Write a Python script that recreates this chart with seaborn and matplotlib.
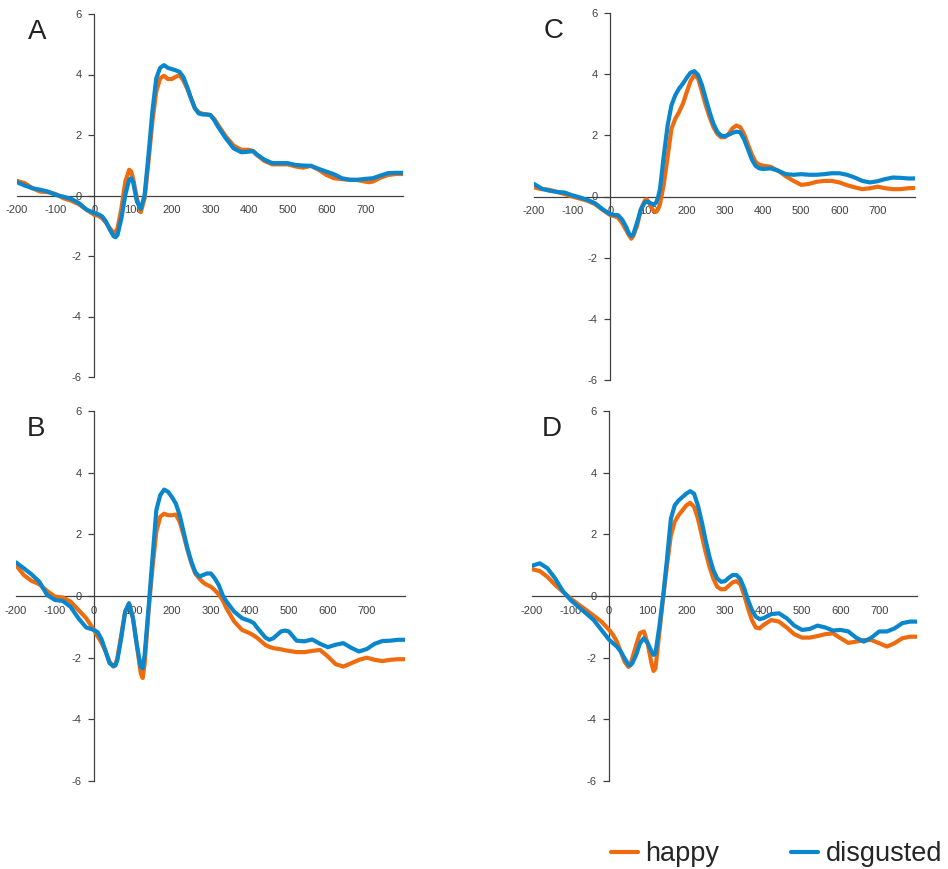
import matplotlib
matplotlib.use("Agg")
import matplotlib.pyplot as plt
import seaborn as sns
import pandas as pd

sns.set_theme(style="white")
plt.rcParams['font.family'] = ['Liberation Sans', 'DejaVu Sans']

conditions = ["happy", "disgusted"]
palette = {"happy": "#ee6b0e", "disgusted": "#0a86cc"}
x_ticks = [-200, -100, 0, 100, 200, 300, 400, 500, 600, 700]
y_ticks = [-6, -4, -2, 0, 2, 4, 6]

# ---- Panel A ----
time_A = [-200, -180, -160, -140, -120, -100, -80, -60, -40, -20,
          0, 10, 20, 30, 40, 50, 55, 60, 70, 80, 90, 95,
          100, 110, 120, 130, 140, 150, 160, 170, 180, 190, 200, 210, 220, 230, 240, 250,
          260, 270, 280, 290, 300, 310, 320,
          340, 360, 380, 400, 410, 420, 440, 460, 480, 500, 520, 540, 560, 580, 600,
          620, 640, 660, 680, 700, 710, 720, 740, 760, 780, 798]
happy_A = [0.48, 0.41, 0.24, 0.13, 0.11, 0.05, -0.09, -0.17, -0.29, -0.47,
           -0.64, -0.67, -0.75, -0.90, -1.08, -1.24, -1.20, -1.08, -0.42, 0.46, 0.85, 0.80,
           0.57, -0.09, -0.55, -0.09, 1.12, 2.44, 3.43, 3.87, 3.96, 3.85, 3.85, 3.92, 3.98, 3.81, 3.54, 3.21,
           2.88, 2.75, 2.70, 2.68, 2.66, 2.53, 2.33,
           1.95, 1.65, 1.51, 1.51, 1.47, 1.34, 1.14, 1.03, 1.03, 1.03, 0.96, 0.92, 0.98, 0.85, 0.68,
           0.57, 0.54, 0.52, 0.51, 0.46, 0.44, 0.46, 0.59, 0.68, 0.71, 0.71]
disgusted_A = [0.44, 0.33, 0.24, 0.19, 0.13, 0.02, -0.04, -0.11, -0.25, -0.47,
               -0.58, -0.62, -0.69, -0.86, -1.13, -1.35, -1.38, -1.30, -0.75, 0.02, 0.52, 0.57,
               0.46, -0.20, -0.44, 0.02, 1.34, 2.77, 3.87, 4.22, 4.31, 4.22, 4.18, 4.14, 4.09, 3.92, 3.59, 3.21,
               2.88, 2.71, 2.68, 2.68, 2.66, 2.49, 2.27,
               1.89, 1.56, 1.43, 1.45, 1.47, 1.36, 1.18, 1.07, 1.07, 1.07, 1.01, 0.99, 0.98, 0.88, 0.79,
               0.70, 0.57, 0.52, 0.52, 0.55, 0.56, 0.57, 0.66, 0.74, 0.75, 0.75]

# ---- Panel B ----
time_B = [-200, -180, -160, -140, -120, -100, -80, -60, -40, -20,
          0, 10, 20, 30, 40, 50, 55, 60, 70, 80, 90, 100, 110, 120, 125, 130,
          140, 150, 160, 170, 180, 190, 200, 210, 220, 230, 240, 250, 260, 270, 280, 290,
          300, 310, 320, 330, 340,
          360, 380, 400, 410, 420, 440, 450, 460, 480, 490, 500,
          520, 540, 560, 580, 600, 620, 640, 660, 680, 700, 720, 740, 760, 780, 798]
happy_B = [1.00, 0.68, 0.49, 0.38, 0.16, -0.02, -0.05, -0.18, -0.45, -0.72,
           -1.10, -1.32, -1.53, -1.80, -2.13, -2.29, -2.23, -2.02, -1.26, -0.51, -0.24, -0.70, -1.59, -2.50, -2.66, -2.20,
           -0.50, 0.90, 2.08, 2.57, 2.67, 2.62, 2.62, 2.64, 2.41, 1.97, 1.49, 1.06, 0.73, 0.57, 0.44, 0.36,
           0.30, 0.19, 0.05, -0.13, -0.40,
           -0.83, -1.10, -1.21, -1.28, -1.37, -1.59, -1.65, -1.69, -1.73, -1.76, -1.78,
           -1.82, -1.82, -1.78, -1.75, -1.96, -2.21, -2.29, -2.18, -2.07, -2.00, -2.07, -2.11, -2.07, -2.05, -2.05]
disgusted_B = [1.09, 0.90, 0.70, 0.46, 0.03, -0.13, -0.16, -0.35, -0.72, -1.02,
               -1.10, -1.18, -1.42, -1.80, -2.18, -2.27, -2.25, -2.08, -1.37, -0.51, -0.24, -0.72, -1.59, -2.29, -2.34, -1.91,
               -0.40, 1.20, 2.78, 3.27, 3.45, 3.38, 3.21, 3.00, 2.62, 2.08, 1.54, 1.11, 0.77, 0.63, 0.68, 0.73,
               0.73, 0.57, 0.36, 0.03, -0.18,
               -0.51, -0.72, -0.81, -0.88, -1.05, -1.35, -1.42, -1.37, -1.15, -1.12, -1.15,
               -1.45, -1.47, -1.41, -1.55, -1.66, -1.58, -1.53, -1.68, -1.80, -1.72, -1.55, -1.46, -1.45, -1.42, -1.42]

# ---- Panel C ----
time_C = [-200, -180, -160, -140, -120, -100, -80, -60, -40, -20,
          0, 10, 20, 30, 40, 50, 55, 60, 70, 80, 90, 95, 100, 110, 115, 120, 125, 130,
          140, 150, 160, 170, 180, 190, 200, 210, 220, 230, 240, 250, 260, 270, 280, 290,
          300, 310, 320, 330, 340, 350, 360, 370, 380, 390, 400,
          420, 440, 460, 480, 500, 520, 540, 560, 580, 600, 620, 640, 660, 680, 700,
          720, 740, 760, 780, 798]
happy_C = [0.30, 0.24, 0.22, 0.15, 0.08, 0.00, -0.07, -0.14, -0.25, -0.44,
           -0.61, -0.64, -0.69, -0.85, -1.07, -1.29, -1.38, -1.29, -0.96, -0.42, -0.14, -0.09, -0.18, -0.42, -0.48, -0.50, -0.42, -0.25,
           0.40, 1.30, 2.21, 2.54, 2.76, 3.03, 3.41, 3.77, 3.97, 3.86, 3.42, 2.98, 2.60, 2.27, 2.05, 1.94,
           1.94, 2.05, 2.23, 2.32, 2.27, 2.05, 1.72, 1.39, 1.14, 1.04, 1.01,
           0.97, 0.84, 0.66, 0.51, 0.38, 0.41, 0.48, 0.51, 0.51, 0.46, 0.37, 0.30, 0.24, 0.27, 0.32,
           0.27, 0.24, 0.24, 0.27, 0.28]
disgusted_C = [0.41, 0.26, 0.19, 0.15, 0.13, 0.04, -0.03, -0.11, -0.22, -0.42,
               -0.58, -0.60, -0.61, -0.74, -0.96, -1.24, -1.29, -1.24, -0.85, -0.42, -0.20, -0.17, -0.18, -0.25, -0.25, -0.20, -0.02, 0.24,
               1.34, 2.32, 2.98, 3.31, 3.53, 3.69, 3.88, 4.05, 4.10, 3.97, 3.64, 3.20, 2.76, 2.38, 2.12, 1.99,
               1.97, 2.02, 2.08, 2.12, 2.10, 1.88, 1.56, 1.23, 1.01, 0.92, 0.90,
               0.92, 0.84, 0.73, 0.71, 0.73, 0.71, 0.71, 0.73, 0.76, 0.76, 0.71, 0.62, 0.51, 0.46, 0.50,
               0.57, 0.62, 0.61, 0.59, 0.59]

# ---- Panel D ----
time_D = [-200, -180, -160, -140, -120, -100, -80, -60, -40, -20,
          0, 10, 20, 30, 40, 50, 55, 60, 70, 80, 90, 100, 110, 115, 120, 130,
          140, 150, 160, 170, 180, 190, 200, 210, 220, 230, 240, 250, 260, 270, 280, 290,
          300, 310, 320, 330, 340, 350, 360, 370, 380, 390, 400,
          420, 440, 460, 480, 500, 520, 540, 560, 580, 600, 620, 640, 660, 680, 700,
          720, 740, 760, 780, 798]
happy_D = [0.87, 0.81, 0.62, 0.36, 0.14, -0.08, -0.27, -0.45, -0.64, -0.83,
           -1.10, -1.26, -1.48, -1.80, -2.13, -2.30, -2.23, -2.02, -1.59, -1.20, -1.15, -1.55, -2.20, -2.43, -2.35, -1.20,
           -0.05, 1.00, 1.97, 2.41, 2.62, 2.78, 2.94, 3.02, 2.89, 2.52, 1.97, 1.43, 0.95, 0.57, 0.30, 0.22,
           0.22, 0.33, 0.44, 0.48, 0.38, 0.03, -0.40, -0.78, -1.02, -1.05, -0.94,
           -0.78, -0.83, -1.02, -1.24, -1.35, -1.35, -1.30, -1.24, -1.21, -1.37, -1.52, -1.48, -1.43, -1.43, -1.53,
           -1.64, -1.53, -1.37, -1.32, -1.32]
disgusted_D = [0.98, 1.06, 0.90, 0.57, 0.16, -0.13, -0.35, -0.56, -0.78, -1.10,
               -1.42, -1.53, -1.64, -1.80, -2.02, -2.23, -2.25, -2.18, -1.91, -1.53, -1.37, -1.53, -1.80, -1.91, -1.86, -1.00,
               0.00, 1.20, 2.51, 2.94, 3.10, 3.21, 3.32, 3.40, 3.32, 2.94, 2.41, 1.81, 1.27, 0.84, 0.57, 0.46,
               0.48, 0.59, 0.68, 0.68, 0.55, 0.25, -0.13, -0.45, -0.67, -0.75, -0.72,
               -0.59, -0.56, -0.72, -0.96, -1.10, -1.07, -0.96, -1.02, -1.12, -1.10, -1.15, -1.35, -1.48, -1.35, -1.15,
               -1.15, -1.05, -0.88, -0.83, -0.83]

panels = [
    ("A", time_A, happy_A, disgusted_A, [17, 377, 403, 14]),
    ("B", time_B, happy_B, disgusted_B, [16, 781, 405, 411]),
    ("C", time_C, happy_C, disgusted_C, [534, 380, 915, 13]),
    ("D", time_D, happy_D, disgusted_D, [532, 781, 917, 411]),
]

W, H = 948, 869
fig = plt.figure(figsize=(W / 100, H / 100), dpi=100)
axis_color = "#404040"
handles = labels = None

for letter, t, hap, dis, (l, b, r, tp) in panels:
    ax = fig.add_axes([l / W, 1 - b / H, (r - l) / W, (b - tp) / H])
    df = pd.DataFrame({
        "time": list(t) + list(t),
        "amplitude": list(hap) + list(dis),
        "condition": ["happy"] * len(t) + ["disgusted"] * len(t),
    })
    sns.lineplot(data=df, x="time", y="amplitude", hue="condition",
                 hue_order=conditions, palette=palette, linewidth=3,
                 ax=ax, legend=True, estimator=None)
    for ln in ax.get_lines():
        ln.set_solid_joinstyle("round")
        ln.set_solid_capstyle("round")
    if handles is None:
        handles, labels = ax.get_legend_handles_labels()
    ax.get_legend().remove()
    ax.set_xlim(-200, 798)
    ax.set_ylim(-6, 6)
    ax.set_xlabel("")
    ax.set_ylabel("")
    ax.set_xticks(x_ticks)
    ax.set_yticks(y_ticks)
    ax.set_xticklabels([str(v) for v in x_ticks])
    ax.set_yticklabels([str(v) for v in y_ticks])
    for s in ["top", "right"]:
        ax.spines[s].set_visible(False)
    ax.spines["left"].set_position(("data", 0))
    ax.spines["bottom"].set_position(("data", 0))
    for s in ["left", "bottom"]:
        ax.spines[s].set_color(axis_color)
        ax.spines[s].set_linewidth(0.9)
        ax.spines[s].set_zorder(1)
    ax.tick_params(axis="x", length=0, pad=7, labelsize=8, colors="#404040")
    ax.tick_params(axis="y", length=4, width=0.9, pad=5, labelsize=8,
                   colors="#404040", direction="out", left=True)
    ax.patch.set_alpha(0)
    ax.grid(False)
    fig.text((l + 20) / W, 1 - (tp + 18) / H, letter, fontsize=20,
             color="#222222", ha="center", va="center")

for h in handles:
    h.set_solid_capstyle("round")

fig.legend(handles, labels, loc="center left",
           bbox_to_anchor=(611 / W, 1 - 854 / H), ncol=2, frameon=False,
           fontsize=19.5, handlelength=1.0, handletextpad=0.27,
           columnspacing=2.65, borderpad=0, borderaxespad=0)

fig.savefig("out.png", dpi=100)
